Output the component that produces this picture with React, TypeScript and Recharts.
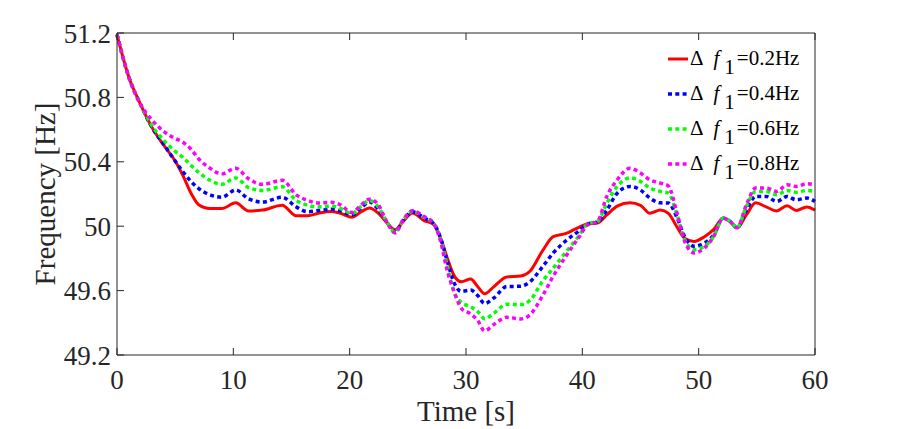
import React from 'react';
import { LineChart, Line, XAxis, YAxis, Legend } from 'recharts';

// time axis [s]
const TIME = [
    0, 1, 2, 3, 4, 5, 5.7, 6.4, 7, 8,
    9, 10.2, 11.3, 12.5, 14.2, 15.4, 16.4, 17.3, 18.4, 19.2,
    20.2, 21.0, 21.7, 22.4, 23.1, 23.9, 24.6, 25.4, 26.4, 27.2,
    27.8, 28.4, 29.0, 29.6, 30.4, 31.0, 31.6, 32.4, 33.5, 34.7,
    35.5, 36.6, 37.5, 38.6, 39.6, 40.5, 41.3, 42.1, 43.0, 44.1,
    45.0, 45.8, 46.7, 47.4, 48.1, 48.8, 49.6, 50.5, 51.3, 52.1,
    52.7, 53.3, 54.1, 54.9, 55.8, 56.7, 57.6, 58.4, 59.3, 60,
];

// frequency [Hz] for each Δf1 setting
const DF_02 = [
    51.19, 50.93, 50.76, 50.615, 50.505, 50.405, 50.31, 50.2, 50.135, 50.11,
    50.11, 50.145, 50.095, 50.1, 50.13, 50.065, 50.065, 50.08, 50.092, 50.08,
    50.056, 50.09, 50.113, 50.085, 50.03, 49.978, 50.03, 50.082, 50.035, 50.012,
    49.93, 49.8, 49.69, 49.655, 49.672, 49.625, 49.58, 49.625, 49.685, 49.69,
    49.72, 49.85, 49.935, 49.955, 49.99, 50.015, 50.02, 50.07, 50.125, 50.145,
    50.13, 50.08, 50.1, 50.08, 50.0, 49.925, 49.905, 49.935, 49.98, 50.05,
    50.03, 49.99, 50.07, 50.145, 50.12, 50.095, 50.127, 50.098, 50.12, 50.1,
];
const DF_04 = [
    51.19, 50.93, 50.76, 50.615, 50.51, 50.405, 50.335, 50.275, 50.235, 50.195,
    50.18, 50.225, 50.17, 50.15, 50.18, 50.12, 50.09, 50.097, 50.105, 50.095,
    50.07, 50.115, 50.15, 50.11, 50.035, 49.968, 50.035, 50.09, 50.05, 50.018,
    49.93, 49.78, 49.645, 49.595, 49.603, 49.57, 49.52, 49.555, 49.625, 49.627,
    49.655, 49.75, 49.834, 49.91, 49.965, 50.015, 50.025, 50.1, 50.205, 50.247,
    50.225, 50.175, 50.145, 50.144, 50.06, 49.935, 49.875, 49.896, 49.947, 50.05,
    50.03, 49.99, 50.1, 50.185, 50.185, 50.154, 50.185, 50.164, 50.175, 50.154,
];
const DF_06 = [
    51.19, 50.93, 50.76, 50.625, 50.535, 50.465, 50.425, 50.375, 50.335, 50.285,
    50.26, 50.3, 50.24, 50.222, 50.245, 50.16, 50.13, 50.12, 50.125, 50.11,
    50.08, 50.125, 50.16, 50.125, 50.04, 49.962, 50.038, 50.093, 50.055, 50.02,
    49.92, 49.75, 49.585, 49.525, 49.5, 49.47, 49.425, 49.46, 49.515, 49.513,
    49.54, 49.66, 49.74, 49.84, 49.93, 50.015, 50.03, 50.144, 50.247, 50.3,
    50.278, 50.237, 50.216, 50.206, 50.08, 49.916, 49.854, 49.875, 49.937, 50.05,
    50.03, 49.99, 50.123, 50.216, 50.216, 50.195, 50.222, 50.21, 50.222, 50.216,
];
const DF_08 = [
    51.19, 50.93, 50.76, 50.66, 50.59, 50.545, 50.52, 50.475, 50.42, 50.36,
    50.325, 50.36, 50.295, 50.26, 50.285, 50.195, 50.16, 50.144, 50.148, 50.133,
    50.085, 50.133, 50.168, 50.14, 50.04, 49.958, 50.04, 50.096, 50.06, 50.02,
    49.91, 49.72, 49.59, 49.49, 49.455, 49.415, 49.35, 49.39, 49.434, 49.424,
    49.45, 49.57, 49.69, 49.815, 49.92, 50.01, 50.03, 50.185, 50.288, 50.36,
    50.33, 50.288, 50.268, 50.25, 50.092, 49.906, 49.834, 49.865, 49.937, 50.05,
    50.03, 49.99, 50.133, 50.237, 50.237, 50.216, 50.257, 50.247, 50.264, 50.257,
];

const X_TICKS = [0, 10, 20, 30, 40, 50, 60];
const Y_TICKS = [49.2, 49.6, 50, 50.4, 50.8, 51.2];

const SERIES = [
    { key: 'df02', label: '0.2Hz', color: '#ff0000', values: DF_02, width: 3, dash: undefined },
    { key: 'df04', label: '0.4Hz', color: '#0000ff', values: DF_04, width: 3.5, dash: '4 3.3' },
    { key: 'df06', label: '0.6Hz', color: '#00ff00', values: DF_06, width: 3.5, dash: '4 3.3' },
    { key: 'df08', label: '0.8Hz', color: '#ff00ff', values: DF_08, width: 3.5, dash: '4 3.3' },
];

const data = TIME.map((t, i) => {
    const row: Record<string, number> = { t };
    SERIES.forEach(s => { row[s.key] = s.values[i]; });
    return row;
});

const AXIS = '#262626';
const FONT = '"Liberation Serif", "Times New Roman", serif';
const TICK_LEN = 7;

const BottomTick = ({ x, y, payload }: any) => (
    <g>
        <line x1={x} y1={y} x2={x} y2={y - TICK_LEN} stroke={AXIS} />
        <text x={x} y={y + 34} textAnchor="middle" fontSize={27} fill={AXIS} fontFamily={FONT}>{payload.value}</text>
    </g>
);

const TopTick = ({ x, y }: any) => (
    <line x1={x} y1={y} x2={x} y2={y + TICK_LEN} stroke={AXIS} />
);

const LeftTick = ({ x, y, payload }: any) => (
    <g>
        <line x1={x} y1={y} x2={x + TICK_LEN} y2={y} stroke={AXIS} />
        <text x={x - 6} y={y + 9.5} textAnchor="end" fontSize={27} fill={AXIS} fontFamily={FONT}>{payload.value}</text>
    </g>
);

const RightTick = ({ x, y }: any) => (
    <line x1={x} y1={y} x2={x - TICK_LEN} y2={y} stroke={AXIS} />
);

const XTitle = ({ viewBox }: any) => (
    <text x={viewBox.x + viewBox.width / 2} y={viewBox.y + viewBox.height + 36} textAnchor="middle"
        fontSize={29} fill={AXIS} fontFamily={FONT}>Time [s]</text>
);

const YTitle = ({ viewBox }: any) => {
    const cx = viewBox.x - 12;
    const cy = viewBox.y + viewBox.height / 2;
    return (
        <text x={cx} y={cy} transform={`rotate(-90, ${cx}, ${cy})`} textAnchor="middle" dominantBaseline="central"
            fontSize={29} fill={AXIS} fontFamily={FONT}>Frequency [Hz]</text>
    );
};

const LegendContent = () => (
    <div style={{ fontFamily: FONT, fontSize: 21, color: '#000' }}>
        {SERIES.map(s => (
            <div key={s.key} style={{ display: 'flex', alignItems: 'center', height: 35 }}>
                <svg width={20} height={8} style={{ display: 'block' }}>
                    <line x1={0} y1={4} x2={20} y2={4} stroke={s.color} strokeWidth={s.width} strokeDasharray={s.dash} />
                </svg>
                <span style={{ lineHeight: '21px', whiteSpace: 'nowrap', marginLeft: 2 }}>
                    Δ<i style={{ marginLeft: 10 }}>f</i>
                    <span style={{ position: 'relative', top: 9, marginLeft: 5, marginRight: 2 }}>1</span>={s.label}
                </span>
            </div>
        ))}
    </div>
);

export default function App() {
    return (
        <div style={{ position: 'absolute', left: 0, top: 0, width: 900, height: 429, background: '#fff' }}>
            <LineChart width={900} height={429} data={data} margin={{ top: 23, right: 75, bottom: 44, left: 57 }}>
                <XAxis dataKey="t" type="number" domain={[0, 60]} ticks={X_TICKS} interval={0}
                    height={30} tickSize={0} tickMargin={0} tickLine={false}
                    axisLine={{ stroke: AXIS }} tick={<BottomTick />} label={<XTitle />} />
                <XAxis xAxisId="top" orientation="top" dataKey="t" type="number" domain={[0, 60]} ticks={X_TICKS}
                    interval={0} height={10} tickSize={0} tickMargin={0} tickLine={false}
                    axisLine={{ stroke: AXIS }} tick={<TopTick />} />
                <YAxis type="number" domain={[49.2, 51.2]} ticks={Y_TICKS} interval={0} width={60}
                    tickSize={0} tickMargin={0} tickLine={false} axisLine={{ stroke: AXIS }}
                    tick={<LeftTick />} label={<YTitle />} />
                <YAxis yAxisId="right" orientation="right" type="number" domain={[49.2, 51.2]} ticks={Y_TICKS}
                    interval={0} width={10} tickSize={0} tickMargin={0} tickLine={false}
                    axisLine={{ stroke: AXIS }} tick={<RightTick />} />
                {SERIES.map(s => (
                    <Line key={s.key} type="monotone" dataKey={s.key} stroke={s.color} strokeWidth={s.width}
                        strokeDasharray={s.dash} dot={false} activeDot={false} isAnimationActive={false} />
                ))}
                <Legend layout="vertical" align="center" verticalAlign="middle" content={<LegendContent />}
                    wrapperStyle={{ left: 668, top: 41, width: 150, height: 140 }} />
            </LineChart>
        </div>
    );
}
